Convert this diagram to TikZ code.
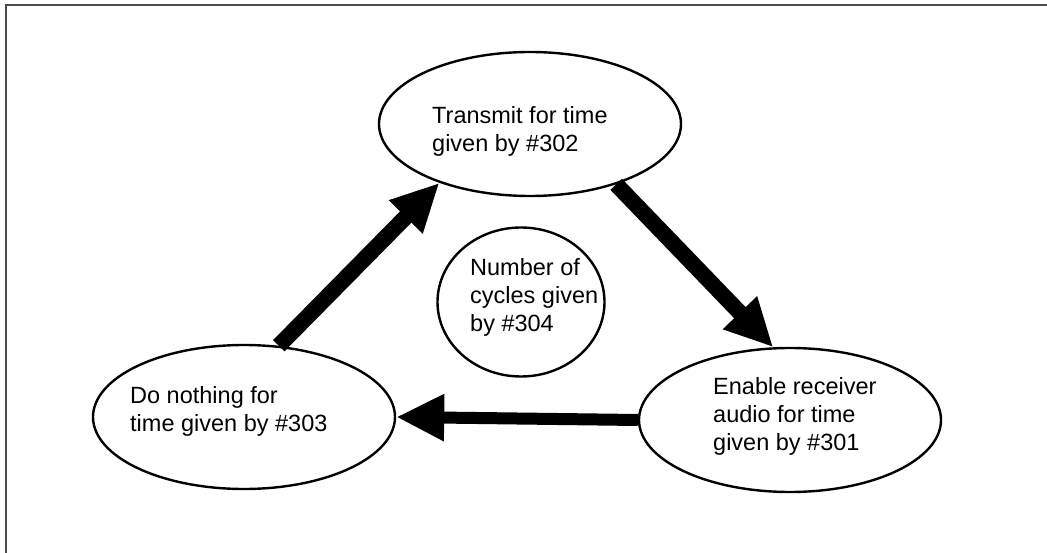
\documentclass[tikz,border=0pt]{standalone}
\usepackage{fontspec}
\setmainfont{Liberation Sans}
\usetikzlibrary{arrows.meta,shapes.geometric}
\begin{document}
\begin{tikzpicture}[x=1pt,y=-1pt,
  state/.style={draw, line width=2.4pt, ellipse, inner sep=0pt, minimum width=302pt, minimum height=144pt},
  lbl/.style={anchor=west, align=left, inner sep=0pt, font=\fontsize{23.5}{28}\selectfont},
  flow/.style={line width=16pt, -{Triangle[length=48pt,width=44pt]}},
  frameline/.style={line width=2.8pt, black!70}]
\useasboundingbox (0,0) rectangle (1047,553);
\draw[frameline] (6,553) -- (6,5) -- (1047,5);
% states
\node[state] (top) at (530,124) {};
\node[state] (left) at (244,417) {};
\node[state] (right) at (790,420) {};
\node[draw, line width=2.4pt, ellipse, inner sep=0pt, minimum width=167pt, minimum height=149pt] (mid) at (521,302) {};
% labels
\node[lbl] (ttop) at (432,131.5) {Transmit for time\\given by \#302};
\node[lbl] (tleft) at (130,411.5) {Do nothing for\\time given by \#303};
\node[lbl] (tright) at (713,416.5) {Enable receiver\\audio for time\\given by \#301};
\node[lbl] (tmid) at (470,297) {Number of\\cycles given\\by \#304};
% connectors
\draw[flow] (left.64) -- (top.213);
\draw[flow] (top.-35) -- (right.103);
\draw[flow, line width=12pt] (right.west) -- (left.east);
\end{tikzpicture}
\end{document}
